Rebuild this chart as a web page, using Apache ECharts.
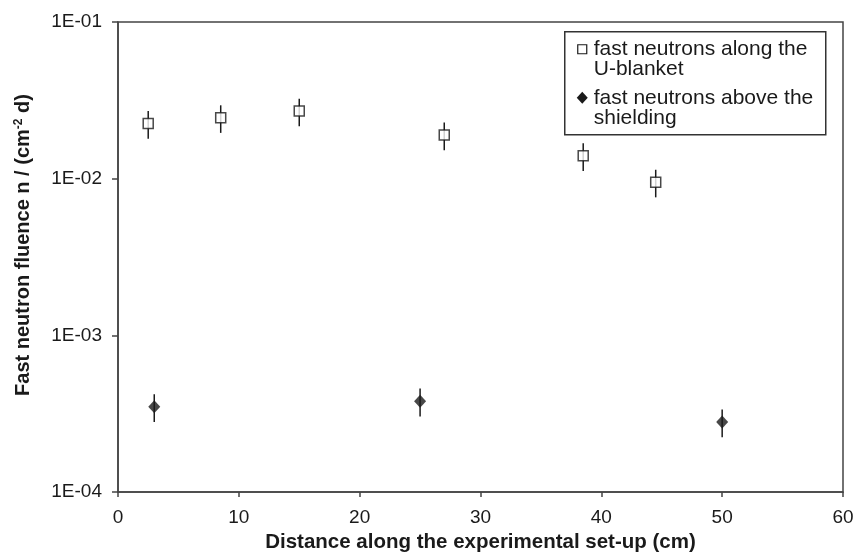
<!DOCTYPE html>
<html>
<head>
<meta charset="utf-8">
<script src="https://cdn.jsdelivr.net/npm/echarts@6/dist/echarts.min.js"></script>
<style>
  html, body { margin: 0; padding: 0; background: #fff; }
  #chart { width: 858px; height: 553px; }
</style>
</head>
<body>
<div id="chart"></div>
<script>
// fast neutrons along the U-blanket
const blanketX = [2.5, 8.5, 15, 27, 38.5, 44.5]
const blanketY = [0.0225, 0.0245, 0.027, 0.019, 0.014, 0.0095]
const blanketErr = [0.0045, 0.0049, 0.0054, 0.0038, 0.0028, 0.0019]

// fast neutrons above the shielding
const shieldX = [3, 25, 50]
const shieldY = [0.00035, 0.00038, 0.00028]
const shieldErr = [0.00007, 0.000077, 0.000056]

const xTicks = [0, 10, 20, 30, 40, 50, 60]
const yTickLabels = ['1E-04', '1E-03', '1E-02', '1E-01']

const font = '"Liberation Sans", Arial, sans-serif'
const ink = '#1a1a1a'

const toPairs = (xs, ys) => xs.map((x, i) => [x, ys[i]])
const toErr = (xs, ys, es) => xs.map((x, i) => [x, ys[i] - es[i], ys[i] + es[i]])

const errorBars = (data) => ({
  type: 'custom',
  data: data,
  silent: true,
  z: 1,
  renderItem: (params, api) => {
    const lo = api.coord([api.value(0), api.value(1)])
    const hi = api.coord([api.value(0), api.value(2)])
    return {
      type: 'line',
      shape: { x1: lo[0], y1: lo[1], x2: hi[0], y2: hi[1] },
      style: { stroke: ink, lineWidth: 1.5 },
    }
  },
})

const chart = echarts.init(document.getElementById('chart'))

chart.setOption({
  animation: false,
  backgroundColor: '#fff',
  grid: {
    left: 118, right: 15, top: 22, bottom: 61,
    outerBoundsMode: 'none',
    containLabel: false,
    show: true, borderColor: '#444', borderWidth: 1.5,
  },
  xAxis: {
    type: 'value',
    min: xTicks[0],
    max: xTicks[xTicks.length - 1],
    interval: 10,
    splitLine: { show: false },
    axisLine: { lineStyle: { color: '#444', width: 1.5 } },
    axisTick: { length: 5, lineStyle: { color: '#444', width: 1.5 } },
    axisLabel: { color: ink, fontFamily: font, fontSize: 19, margin: 16 },
    name: 'Distance along the experimental set-up (cm)',
    nameLocation: 'middle',
    nameGap: 40,
    nameTextStyle: { color: ink, fontFamily: font, fontSize: 20.5, fontWeight: 'bold' },
  },
  yAxis: {
    type: 'log',
    logBase: 10,
    min: 1e-4,
    max: 1e-1,
    splitLine: { show: false },
    minorTick: { show: false },
    axisLine: { lineStyle: { color: '#444', width: 1.5 } },
    axisTick: { length: 6, lineStyle: { color: '#444', width: 1.5 } },
    axisLabel: {
      color: ink, fontFamily: font, fontSize: 19, margin: 16,
      formatter: (v) => yTickLabels[Math.round(Math.log10(v)) + 4],
    },
  },
  graphic: [
    {
      type: 'text',
      x: 23, y: 245,
      rotation: Math.PI / 2,
      style: {
        text: '{a|Fast neutron fluence n / (cm}{s|-2}{a| d)}',
        align: 'center',
        verticalAlign: 'middle',
        rich: {
          a: { fontFamily: font, fontSize: 20, fontWeight: 'bold', fill: ink },
          s: { fontFamily: font, fontSize: 12, fontWeight: 'bold', fill: ink, padding: [0, 0, 9, 0] },
        },
      },
    },
    {
      type: 'group',
      left: 564, top: 31,
      children: [
        { type: 'rect', shape: { x: 0, y: 0, width: 261, height: 103 },
          style: { fill: '#fff', stroke: '#333', lineWidth: 1.5 } },
        { type: 'rect', shape: { x: 13, y: 13, width: 9, height: 9 },
          style: { fill: '#fff', stroke: ink, lineWidth: 1.2 } },
        { type: 'text', x: 29, y: 7,
          style: { text: 'fast neutrons along the\nU-blanket', fontFamily: font, fontSize: 21,
            lineHeight: 20, fill: ink } },
        { type: 'polygon', shape: { points: [[17.5, 60], [23, 66], [17.5, 72], [12, 66]] },
          style: { fill: ink } },
        { type: 'text', x: 29, y: 56,
          style: { text: 'fast neutrons above the\nshielding', fontFamily: font, fontSize: 21,
            lineHeight: 20, fill: ink } },
      ],
    },
  ],
  series: [
    errorBars(toErr(blanketX, blanketY, blanketErr)),
    errorBars(toErr(shieldX, shieldY, shieldErr)),
    {
      name: 'fast neutrons along the U-blanket',
      type: 'scatter',
      data: toPairs(blanketX, blanketY),
      symbol: 'rect',
      symbolSize: [10, 10],
      itemStyle: { color: '#fff', borderColor: ink, borderWidth: 1.5 },
      z: 3,
    },
    {
      name: 'fast neutrons above the shielding',
      type: 'scatter',
      data: toPairs(shieldX, shieldY),
      symbol: 'diamond',
      symbolSize: [12, 13],
      itemStyle: { color: ink },
      z: 3,
    },
  ],
})
</script>
</body>
</html>
